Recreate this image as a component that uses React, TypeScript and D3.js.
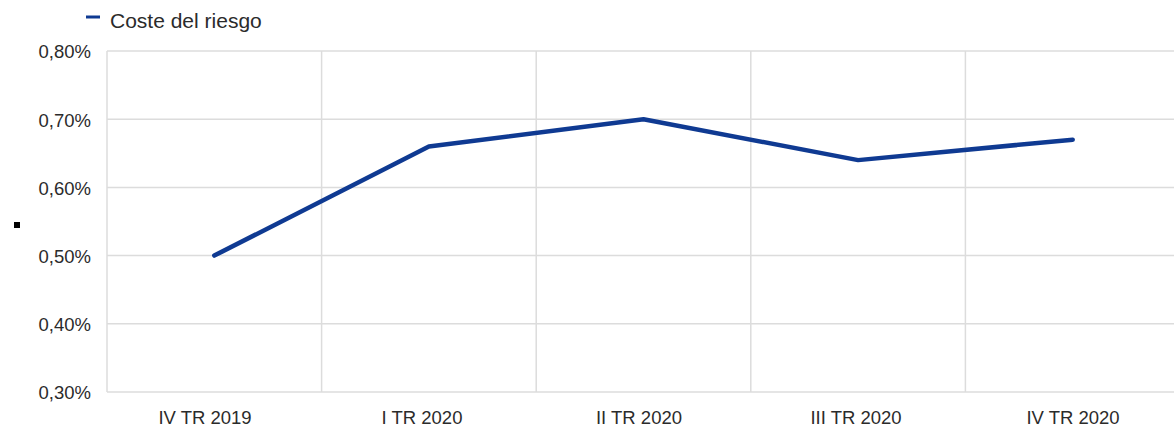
import React from "react";
import * as d3 from "d3";

const categories = ["IV TR 2019", "I TR 2020", "II TR 2020", "III TR 2020", "IV TR 2020"];
const costeDelRiesgo = [0.5, 0.66, 0.7, 0.64, 0.67];
const yTicks = [0.3, 0.4, 0.5, 0.6, 0.7, 0.8];
const seriesName = "Coste del riesgo";

const W = 1174;
const H = 429;
const left = 107;
const right = 1180;
const top = 51;
const bottom = 392;

export default function App() {
  const x = d3.scaleBand<string>().domain(categories).range([left, right]).padding(0);
  // axis label band (labels in the original sit on a slightly wider band)
  const xl = d3.scaleBand<string>().domain(categories).range([96.5, 1181.5]).padding(0);
  const y = d3.scaleLinear().domain([0.3, 0.8]).range([bottom, top]);
  const fmt = (v: number) => v.toFixed(2).replace(".", ",") + "%";
  const line = d3
    .line<number>()
    .x((_, i) => (x(categories[i]) as number) + x.bandwidth() / 2)
    .y((d) => y(d));
  const font = "'Liberation Sans', Arial, sans-serif";
  const bounds = categories.map((c) => x(c) as number).concat([right]);

  return (
    <svg
      width={W}
      height={H}
      style={{ position: "absolute", left: 0, top: 0, background: "#fff" }}
      fontFamily={font}
    >
      <rect width={W} height={H} fill="#fff" />
      {yTicks.map((t) => (
        <line key={"h" + t} x1={left} x2={right} y1={y(t)} y2={y(t)} stroke="#dcdcdc" strokeWidth={1.5} />
      ))}
      {bounds.map((b, i) => (
        <line key={"v" + i} x1={b} x2={b} y1={top} y2={bottom} stroke="#dcdcdc" strokeWidth={1.5} />
      ))}
      {yTicks.map((t) => (
        <text key={"yl" + t} x={91} y={y(t) + 1} dy="0.35em" textAnchor="end" fontSize={18.5} fill="#2b2b2b">
          {fmt(t)}
        </text>
      ))}
      {categories.map((c) => (
        <text
          key={"xl" + c}
          x={(xl(c) as number) + xl.bandwidth() / 2}
          y={418}
          dy="0.35em"
          textAnchor="middle"
          fontSize={18.5}
          fill="#2b2b2b"
        >
          {c}
        </text>
      ))}
      <path
        d={line(costeDelRiesgo) || ""}
        fill="none"
        stroke="#0f3a92"
        strokeWidth={4.5}
        strokeLinejoin="round"
        strokeLinecap="round"
      />
      <line x1={86} x2={100} y1={17} y2={17} stroke="#0f3a92" strokeWidth={3} />
      <text x={110} y={21} dy="0.35em" fontSize={21} fill="#2b2b2b">
        {seriesName}
      </text>
      <rect x={14} y={222} width={6} height={6} fill="#000" />
    </svg>
  );
}
